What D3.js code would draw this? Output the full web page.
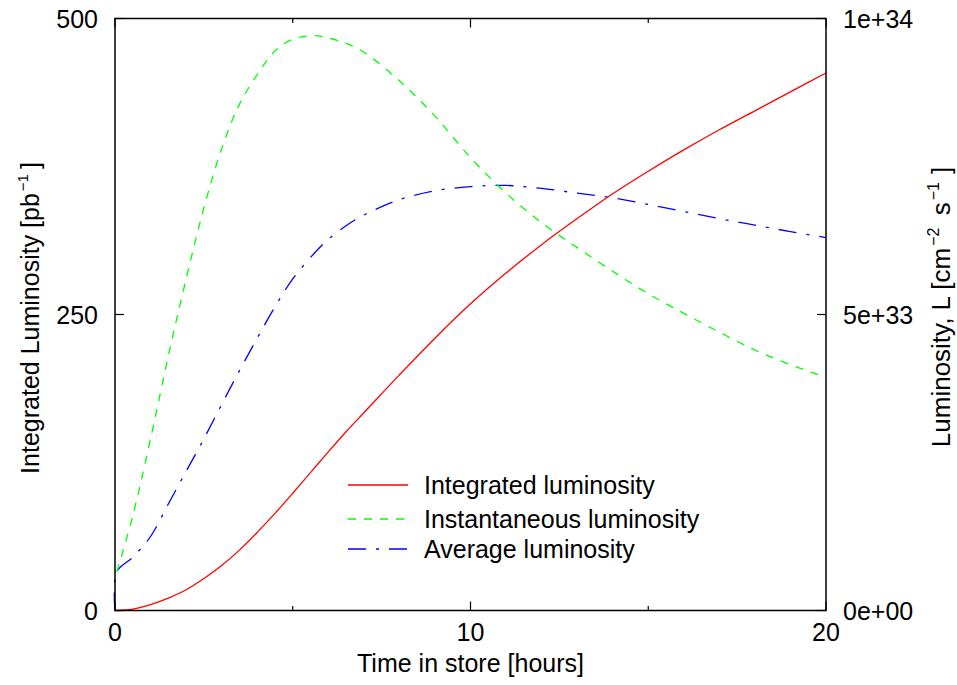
<!DOCTYPE html>
<html>
	<head>
		<meta charset="utf-8">
		<title>Luminosity vs time in store</title>
		<script src="https://d3js.org/d3.v7.min.js"></script>
		<style type="text/css">
			body { margin: 0; background: #fff; }
			text { font-family: "Liberation Sans", Arial, sans-serif; fill: #000; }
		</style>
	</head>
	<body>
		<script type="text/javascript">

			var svgWidth = 957;
			var svgHeight = 685;

			// time in store [hours]
			var hours = [0, 0.05, 0.5, 1, 1.5, 2, 2.5, 3, 3.5, 4, 4.5, 5, 5.6, 6, 6.5, 7, 8, 9, 10, 11, 12, 13, 14, 15, 16, 17, 18, 19, 20];

			// integrated luminosity [pb^-1] (left axis)
			var integrated = [0, 0.01, 1.2, 5, 10.5, 17.5, 27, 38, 51, 66, 82, 99, 120, 134, 151, 167, 199, 230, 259, 285, 309, 331, 352, 371, 389, 406, 422, 438, 454];

			// instantaneous luminosity [1e34 cm^-2 s^-1] (right axis)
			var instantaneous = [null, 0.065, 0.16, 0.29, 0.43, 0.56, 0.68, 0.78, 0.855, 0.905, 0.945, 0.965, 0.971, 0.967, 0.958, 0.943, 0.895, 0.835, 0.765, 0.705, 0.655, 0.613, 0.573, 0.535, 0.502, 0.47, 0.44, 0.415, 0.394];

			// average luminosity [1e34 cm^-2 s^-1] (right axis)
			var average = [0, 0.065, 0.09, 0.125, 0.18, 0.235, 0.29, 0.348, 0.405, 0.46, 0.513, 0.56, 0.603, 0.627, 0.65, 0.668, 0.694, 0.709, 0.716, 0.718, 0.713, 0.705, 0.697, 0.686, 0.674, 0.662, 0.651, 0.64, 0.63];

			var xTicks = [0, 10, 20];
			var xMinor = [5, 15];
			var leftTicks = [0, 250, 500];
			var rightTicks = [0, 0.5, 1];
			var rightTickLabels = ['0e+00', '5e+33', '1e+34'];

			var legendNames = ['Integrated luminosity', 'Instantaneous luminosity', 'Average luminosity'];

			var plotLeft = 115, plotRight = 826, plotTop = 18.5, plotBottom = 610.5;

			var xScale = d3.scaleLinear().domain([0, 20]).range([plotLeft, plotRight]);
			var yLeft = d3.scaleLinear().domain([0, 500]).range([plotBottom, plotTop]);
			var yRight = d3.scaleLinear().domain([0, 1]).range([plotBottom, plotTop]);

			var svg = d3.select('body')
				.append('svg')
				.attr('width', svgWidth)
				.attr('height', svgHeight);

			var fontSize = 25;

			// curves
			function makeLine(values, yScale) {
				return d3.line()
					.defined(function(d, i) { return values[i] !== null; })
					.x(function(d, i) { return xScale(hours[i]); })
					.y(function(d, i) { return yScale(values[i]); })
					.curve(d3.curveCatmullRom.alpha(0.5))(values);
			}

			var styles = [
				{ color: '#ff0000', dash: null },
				{ color: '#00ff00', dash: '8,8' },
				{ color: '#0000ff', dash: '18,10,3,10' }
			];

			svg.append('path')
				.attr('d', makeLine(average, yRight))
				.attr('fill', 'none')
				.attr('stroke', styles[2].color)
				.attr('stroke-width', 1.3)
				.attr('stroke-dasharray', styles[2].dash);

			svg.append('path')
				.attr('d', makeLine(instantaneous, yRight))
				.attr('fill', 'none')
				.attr('stroke', styles[1].color)
				.attr('stroke-width', 1.3)
				.attr('stroke-dasharray', styles[1].dash);

			svg.append('path')
				.attr('d', makeLine(integrated, yLeft))
				.attr('fill', 'none')
				.attr('stroke', styles[0].color)
				.attr('stroke-width', 1.3);

			// frame
			svg.append('rect')
				.attr('x', plotLeft)
				.attr('y', plotTop)
				.attr('width', plotRight - plotLeft)
				.attr('height', plotBottom - plotTop)
				.attr('fill', 'none')
				.attr('stroke', '#000')
				.attr('stroke-width', 1.5);

			// ticks (inward, mirrored on top)
			var tickG = svg.append('g').attr('stroke', '#000').attr('stroke-width', 1.2);
			xTicks.concat(xMinor).forEach(function(t) {
				var len = xMinor.indexOf(t) >= 0 ? 4.5 : 9;
				tickG.append('line').attr('x1', xScale(t)).attr('x2', xScale(t))
					.attr('y1', plotBottom).attr('y2', plotBottom - len);
				tickG.append('line').attr('x1', xScale(t)).attr('x2', xScale(t))
					.attr('y1', plotTop).attr('y2', plotTop + len);
			});
			leftTicks.forEach(function(t) {
				tickG.append('line').attr('x1', plotLeft).attr('x2', plotLeft + 9)
					.attr('y1', yLeft(t)).attr('y2', yLeft(t));
			});
			rightTicks.forEach(function(t) {
				tickG.append('line').attr('x1', plotRight).attr('x2', plotRight - 9)
					.attr('y1', yRight(t)).attr('y2', yRight(t));
			});

			// tick labels
			svg.selectAll('.xlab')
				.data(xTicks)
				.enter()
				.append('text')
				.attr('x', function(d) { return xScale(d); })
				.attr('y', 641)
				.attr('text-anchor', 'middle')
				.attr('font-size', fontSize)
				.text(function(d) { return d; });

			svg.selectAll('.ylab')
				.data(leftTicks)
				.enter()
				.append('text')
				.attr('x', 98)
				.attr('y', function(d) { return yLeft(d) + 9; })
				.attr('text-anchor', 'end')
				.attr('font-size', fontSize)
				.text(function(d) { return d; });

			svg.selectAll('.rlab')
				.data(rightTicks)
				.enter()
				.append('text')
				.attr('x', 843)
				.attr('y', function(d) { return yRight(d) + 9; })
				.attr('font-size', fontSize)
				.text(function(d, i) { return rightTickLabels[i]; });

			// axis titles
			svg.append('text')
				.attr('x', 470.5)
				.attr('y', 672)
				.attr('text-anchor', 'middle')
				.attr('font-size', fontSize)
				.text('Time in store [hours]');

			var lt = svg.append('text')
				.attr('transform', 'translate(39,318) rotate(-90)')
				.attr('text-anchor', 'middle')
				.attr('font-size', fontSize);
			lt.append('tspan').text('Integrated Luminosity [pb');
			lt.append('tspan').attr('font-size', 15).attr('dy', -11).attr('dx', 2).text('\u22121');
			lt.append('tspan').attr('dy', 11).attr('dx', 5).text(']');

			var rt = svg.append('text')
				.attr('transform', 'translate(950,307) rotate(-90)')
				.attr('text-anchor', 'middle')
				.attr('font-size', 26);
			rt.append('tspan').text('Luminosity, L [cm');
			rt.append('tspan').attr('font-size', 16).attr('dy', -11).attr('dx', 2).text('\u22122');
			rt.append('tspan').attr('dy', 11).attr('dx', 5).text(' s');
			rt.append('tspan').attr('font-size', 16).attr('dy', -11).attr('dx', 2).text('\u22121');
			rt.append('tspan').attr('dy', 11).attr('dx', 8).text(']');

			// legend
			var legendY = [485, 519, 549];
			legendNames.forEach(function(name, i) {
				svg.append('line')
					.attr('x1', 348).attr('x2', 408)
					.attr('y1', legendY[i]).attr('y2', legendY[i])
					.attr('stroke', styles[i].color)
					.attr('stroke-width', 1.3)
					.attr('stroke-dasharray', styles[i].dash);
				svg.append('text')
					.attr('x', 424)
					.attr('y', legendY[i] + 9)
					.attr('font-size', fontSize)
					.text(name);
			});

		</script>
	</body>
</html>
